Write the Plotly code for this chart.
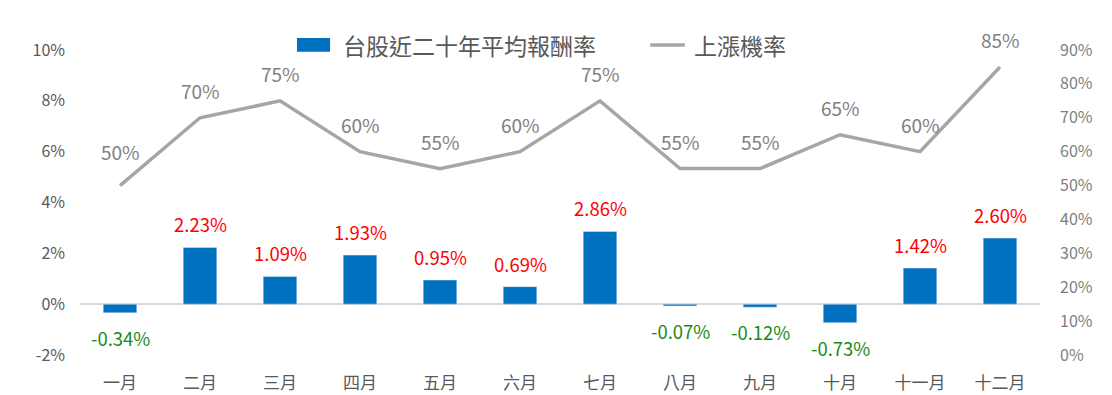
import plotly.graph_objects as go

months = ["一月", "二月", "三月", "四月", "五月", "六月", "七月", "八月", "九月", "十月", "十一月", "十二月"]
avg_return = [-0.34, 2.23, 1.09, 1.93, 0.95, 0.69, 2.86, -0.07, -0.12, -0.73, 1.42, 2.60]
up_prob = [50, 70, 75, 60, 55, 60, 75, 55, 55, 65, 60, 85]
left_ticks = [-2, 0, 2, 4, 6, 8, 10]
right_ticks = [0, 10, 20, 30, 40, 50, 60, 70, 80, 90]
series_names = ["台股近二十年平均報酬率", "上漲機率"]

FONT = "Noto Sans CJK TC, Noto Sans, sans-serif"
BLUE = "#0070C0"
GREY_LINE = "#A6A6A6"
TEXT_GREY = "#595959"

fig = go.Figure()
fig.add_trace(go.Bar(
    x=months, y=avg_return, name=series_names[0],
    marker=dict(color=BLUE), width=0.42, yaxis="y", showlegend=False,
))
fig.add_trace(go.Scatter(
    x=months, y=up_prob, name=series_names[1], mode="lines",
    line=dict(color=GREY_LINE, width=3.5), yaxis="y2", showlegend=False,
))

annotations = []
for m, v in zip(months, avg_return):
    annotations.append(dict(
        x=m, y=v, xref="x", yref="y", text=f"{v:.2f}%", showarrow=False,
        yshift=23 if v >= 0 else -25,
        font=dict(size=18.5, color="#FF0000" if v >= 0 else "#1A8A1A", family=FONT),
    ))
for i, (m, p) in enumerate(zip(months, up_prob)):
    annotations.append(dict(
        x=m, y=p, xref="x", yref="y2", text=f"{p}%", showarrow=False,
        yshift=34 if i == 0 else 27,
        font=dict(size=19, color="#7F7F7F", family=FONT),
    ))

# custom legend (wide bar swatch like the reference)
legend_y = 1.0164
shapes = [
    dict(type="rect", xref="paper", yref="paper", x0=0.226, x1=0.2605, y0=0.994, y1=1.039,
         fillcolor=BLUE, line=dict(width=0)),
    dict(type="line", xref="paper", yref="paper", x0=0.594, x1=0.630, y0=legend_y, y1=legend_y,
         line=dict(color=GREY_LINE, width=3.5)),
]
annotations.append(dict(x=0.272, y=legend_y, xref="paper", yref="paper", text=series_names[0],
                        showarrow=False, xanchor="left", yanchor="middle",
                        font=dict(size=23, color=TEXT_GREY, family=FONT)))
annotations.append(dict(x=0.638, y=legend_y, xref="paper", yref="paper", text=series_names[1],
                        showarrow=False, xanchor="left", yanchor="middle",
                        font=dict(size=23, color=TEXT_GREY, family=FONT)))

fig.update_layout(
    width=1104, height=387,
    margin=dict(l=72, r=72, t=42, b=40, autoexpand=False),
    plot_bgcolor="white", paper_bgcolor="white",
    font=dict(family=FONT, color=TEXT_GREY, size=16),
    showlegend=False,
    xaxis=dict(showgrid=False, showline=False, ticks="", ticklabelstandoff=16,
               tickfont=dict(size=17, color=TEXT_GREY)),
    yaxis=dict(range=[-2, 10], tickvals=left_ticks, ticktext=[f"{t}%" for t in left_ticks],
               showgrid=False, zeroline=True, zerolinecolor="#D9D9D9", zerolinewidth=1.5,
               showline=False, ticks="", ticklabelstandoff=14,
               tickfont=dict(size=16, color=TEXT_GREY)),
    yaxis2=dict(range=[0, 90], tickvals=right_ticks, ticktext=[f"{t}%" for t in right_ticks],
                overlaying="y", side="right", showgrid=False, zeroline=False, showline=False,
                ticks="", ticklabelstandoff=19,
                tickfont=dict(size=16, color="#7F7F7F")),
    annotations=annotations,
    shapes=shapes,
    bargap=0.5,
)

fig.write_html("out.html")
